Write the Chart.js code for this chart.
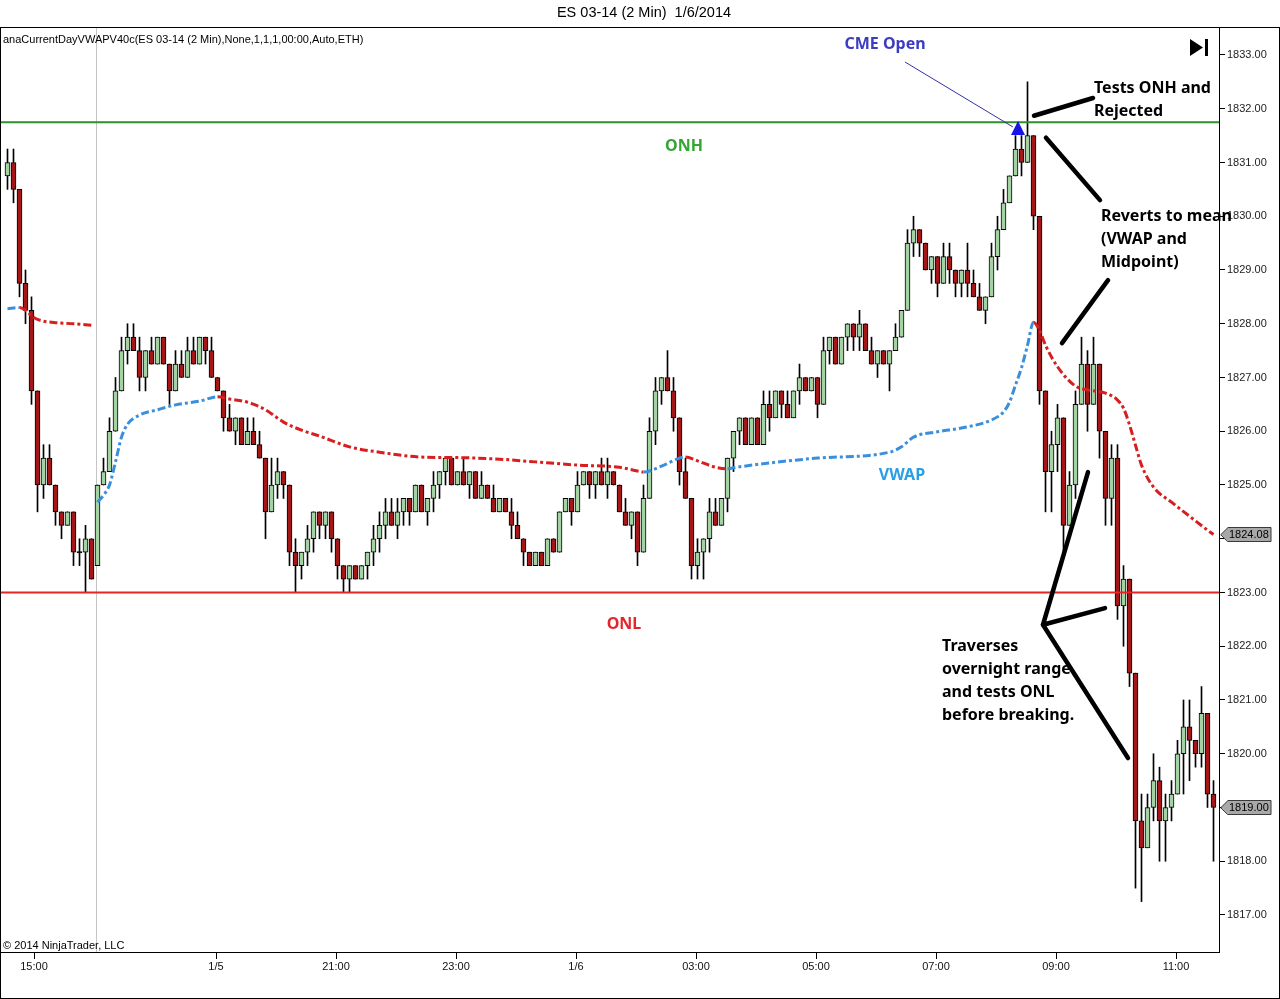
<!DOCTYPE html>
<html>
<head>
<meta charset="utf-8">
<title>ES 03-14 (2 Min) 1/6/2014</title>
<script src="https://cdn.jsdelivr.net/npm/chart.js@4.4.1/dist/chart.umd.min.js"></script>
<style>
  html, body { margin: 0; padding: 0; background: #fff; }
  #wrap { position: relative; width: 1280px; height: 999px; }
</style>
</head>
<body>
<div id="wrap"><canvas id="chart"></canvas></div>
<script>
// 6-minute bars, left to right
const opens = [
  1830.75,1831.0,1830.5,1828.75,1828.25,1826.75,1825.0,1825.5,1825.0,1824.5,
  1824.25,1824.5,1823.75,1823.75,1824.0,1823.5,1825.0,1825.25,1826.0,1826.75,
  1827.5,1827.75,1827.5,1827.0,1827.5,1827.25,1827.75,1827.25,1826.75,1827.25,
  1827.0,1827.5,1827.25,1827.75,1827.5,1827.0,1826.75,1826.25,1826.0,1826.25,
  1825.75,1826.0,1825.75,1825.5,1824.5,1825.0,1825.25,1825.0,1823.75,1823.5,
  1823.75,1824.0,1824.5,1824.25,1824.5,1824.0,1823.5,1823.25,1823.5,1823.25,
  1823.5,1823.75,1824.0,1824.25,1824.5,1824.25,1824.5,1824.75,1824.5,1825.0,
  1824.5,1824.75,1825.0,1825.25,1825.5,1825.0,1825.25,1825.0,1825.25,1824.75,
  1825.0,1824.75,1824.5,1824.75,1824.5,1824.25,1824.0,1823.75,1823.5,1823.75,
  1823.5,1824.0,1823.75,1824.5,1824.75,1824.5,1825.0,1825.25,1825.0,1825.25,
  1825.0,1825.25,1825.0,1824.5,1824.25,1824.5,1823.75,1824.75,1826.0,1826.75,
  1827.0,1826.75,1826.25,1825.25,1824.75,1823.5,1823.75,1824.0,1824.5,1824.25,
  1824.75,1825.5,1826.0,1826.25,1825.75,1826.25,1825.75,1826.5,1826.25,1826.75,
  1826.5,1826.25,1826.75,1827.0,1826.75,1827.0,1826.5,1827.5,1827.75,1827.25,
  1827.75,1828.0,1827.75,1828.0,1827.5,1827.25,1827.5,1827.25,1827.5,1827.75,
  1828.25,1829.5,1829.75,1829.5,1829.0,1829.25,1828.75,1829.25,1829.0,1828.75,
  1829.0,1828.75,1828.5,1828.25,1828.5,1829.25,1829.75,1830.25,1830.75,1831.25,
  1831.0,1831.5,1830.0,1826.75,1825.25,1825.75,1826.25,1824.25,1825.0,1826.5,
  1827.25,1826.5,1827.25,1826.0,1824.75,1825.5,1822.75,1823.25,1821.5,1818.75,
  1818.25,1819.0,1819.5,1818.75,1819.0,1819.25,1820.0,1820.5,1820.25,1820.0,
  1820.75,1819.25
];
const highs = [
  1831.25,1831.25,1830.5,1829.0,1828.5,1826.75,1825.75,1825.75,1825.0,1824.5,
  1824.5,1824.5,1824.0,1824.25,1824.0,1825.0,1825.5,1826.25,1827.0,1827.75,
  1828.0,1828.0,1827.75,1827.5,1827.75,1827.75,1827.75,1827.25,1827.5,1827.5,
  1827.75,1827.75,1827.75,1827.75,1827.75,1827.0,1826.75,1826.5,1826.25,1826.25,
  1826.25,1826.25,1826.0,1825.5,1825.5,1825.5,1825.25,1825.0,1824.0,1823.75,
  1824.25,1824.5,1824.5,1824.5,1824.5,1824.0,1823.5,1823.5,1823.5,1823.5,
  1823.75,1824.25,1824.5,1824.75,1824.75,1824.75,1824.75,1824.75,1825.0,1825.0,
  1824.75,1825.25,1825.25,1825.5,1825.5,1825.25,1825.5,1825.25,1825.25,1825.25,
  1825.0,1825.0,1824.75,1824.75,1824.75,1824.5,1824.0,1823.75,1823.75,1823.75,
  1824.0,1824.0,1824.5,1824.75,1824.75,1825.25,1825.25,1825.25,1825.25,1825.5,
  1825.5,1825.25,1825.0,1824.75,1824.5,1824.5,1825.0,1826.25,1827.0,1827.0,
  1827.5,1827.0,1826.25,1825.5,1824.75,1824.0,1824.0,1824.75,1824.75,1824.75,
  1825.5,1826.0,1826.25,1826.25,1826.25,1826.25,1826.75,1826.75,1826.75,1826.75,
  1826.75,1826.75,1827.25,1827.0,1827.0,1827.0,1827.75,1827.75,1827.75,1827.75,
  1828.0,1828.0,1828.25,1828.0,1827.75,1827.5,1827.5,1827.5,1828.0,1828.25,
  1829.75,1830.0,1829.75,1829.5,1829.25,1829.25,1829.5,1829.5,1829.0,1829.0,
  1829.5,1829.0,1828.75,1828.5,1829.5,1830.0,1830.5,1830.75,1831.5,1831.5,
  1832.5,1831.5,1830.0,1826.75,1826.0,1826.5,1826.25,1825.25,1826.75,1827.75,
  1827.5,1827.75,1827.25,1826.0,1825.75,1825.75,1823.5,1823.25,1821.5,1819.25,
  1819.25,1820.0,1819.75,1819.25,1819.5,1820.25,1821.0,1821.0,1820.25,1821.25,
  1820.75,1819.5
];
const lows = [
  1830.5,1830.25,1828.5,1828.0,1826.5,1824.5,1824.75,1825.0,1824.25,1824.0,
  1824.25,1823.5,1823.5,1823.0,1823.25,1823.5,1825.0,1825.25,1826.0,1826.75,
  1827.25,1827.5,1826.75,1826.75,1827.25,1827.25,1827.25,1826.5,1826.75,1827.0,
  1827.0,1827.25,1827.25,1827.25,1827.0,1826.75,1826.0,1826.0,1825.75,1825.75,
  1825.75,1825.75,1825.5,1824.0,1824.5,1824.75,1824.75,1823.5,1823.0,1823.25,
  1823.5,1823.75,1824.0,1824.0,1823.75,1823.25,1823.0,1823.0,1823.25,1823.25,
  1823.25,1823.5,1823.75,1824.0,1824.25,1824.0,1824.25,1824.25,1824.5,1824.5,
  1824.25,1824.5,1824.75,1825.0,1825.0,1825.0,1825.0,1824.75,1824.75,1824.75,
  1824.75,1824.5,1824.5,1824.5,1824.0,1824.0,1823.5,1823.5,1823.5,1823.5,
  1823.5,1823.75,1823.75,1824.5,1824.25,1824.5,1825.0,1824.75,1824.75,1825.0,
  1824.75,1825.0,1824.5,1824.25,1824.0,1823.5,1823.75,1824.75,1825.75,1826.5,
  1826.75,1826.0,1825.0,1824.75,1823.25,1823.25,1823.25,1823.75,1824.25,1824.25,
  1824.5,1825.25,1825.75,1825.75,1825.75,1825.75,1825.75,1826.0,1826.25,1826.25,
  1826.25,1826.25,1826.5,1826.75,1826.75,1826.25,1826.5,1827.25,1827.25,1827.25,
  1827.5,1827.5,1827.5,1827.5,1827.25,1827.0,1827.25,1826.75,1827.5,1827.75,
  1828.25,1829.25,1829.25,1829.0,1828.75,1828.5,1828.75,1828.75,1828.5,1828.5,
  1828.5,1828.5,1828.25,1828.0,1828.5,1829.0,1829.75,1830.25,1830.75,1830.75,
  1831.0,1829.75,1826.5,1824.5,1824.5,1825.25,1823.75,1824.25,1824.75,1826.5,
  1826.0,1826.5,1825.5,1824.25,1824.25,1822.5,1822.0,1821.25,1817.5,1817.25,
  1818.25,1818.75,1818.0,1818.0,1818.75,1819.25,1819.25,1819.5,1819.75,1819.75,
  1819.0,1818.0
];
const closes = [
  1831.0,1830.5,1828.75,1828.25,1826.75,1825.0,1825.5,1825.0,1824.5,1824.25,
  1824.5,1823.75,1823.75,1824.0,1823.25,1825.0,1825.25,1826.0,1826.75,1827.5,
  1827.75,1827.5,1827.0,1827.5,1827.25,1827.75,1827.25,1826.75,1827.25,1827.0,
  1827.5,1827.25,1827.75,1827.5,1827.0,1826.75,1826.25,1826.0,1826.25,1825.75,
  1826.0,1825.75,1825.5,1824.5,1825.0,1825.25,1825.0,1823.75,1823.5,1823.75,
  1824.0,1824.5,1824.25,1824.5,1824.0,1823.5,1823.25,1823.5,1823.25,1823.5,
  1823.75,1824.0,1824.25,1824.5,1824.25,1824.5,1824.75,1824.5,1825.0,1824.5,
  1824.75,1825.0,1825.25,1825.5,1825.0,1825.25,1825.0,1825.25,1824.75,1825.0,
  1824.75,1824.5,1824.75,1824.5,1824.25,1824.0,1823.75,1823.5,1823.75,1823.5,
  1824.0,1823.75,1824.5,1824.75,1824.5,1825.0,1825.25,1825.0,1825.25,1825.0,
  1825.25,1825.0,1824.5,1824.25,1824.5,1823.75,1824.75,1826.0,1826.75,1827.0,
  1826.75,1826.25,1825.25,1824.75,1823.5,1823.75,1824.0,1824.5,1824.25,1824.75,
  1825.5,1826.0,1826.25,1825.75,1826.25,1825.75,1826.5,1826.25,1826.75,1826.5,
  1826.25,1826.75,1827.0,1826.75,1827.0,1826.5,1827.5,1827.75,1827.25,1827.75,
  1828.0,1827.75,1828.0,1827.5,1827.25,1827.5,1827.25,1827.5,1827.75,1828.25,
  1829.5,1829.75,1829.5,1829.0,1829.25,1828.75,1829.25,1829.0,1828.75,1829.0,
  1828.75,1828.5,1828.25,1828.5,1829.25,1829.75,1830.25,1830.75,1831.25,1831.0,
  1831.5,1830.0,1826.75,1825.25,1825.75,1826.25,1824.25,1825.0,1826.5,1827.25,
  1826.5,1827.25,1826.0,1824.75,1825.5,1822.75,1823.25,1821.5,1818.75,1818.25,
  1819.0,1819.5,1818.75,1819.0,1819.25,1820.0,1820.5,1820.25,1820.0,1820.75,
  1819.25,1819.0
];

// VWAP of the previous session (ends at the session break) and of the current day
const vwapPrevIdx = [0, 2, 3, 4, 5, 8, 11, 14];
const vwapPrevVal = [1828.28, 1828.30, 1828.25, 1828.15, 1828.08, 1828.02, 1828.00, 1827.97];
const vwapIdx = [
  15, 16, 17, 18, 19, 20, 22, 25, 28, 32, 35,
  37, 40, 43, 46, 49, 52, 57, 62, 69, 75, 82, 88, 95, 102, 105,
  106, 109, 112, 113,
  115, 118, 120,
  121, 127, 135, 147, 149, 151, 155, 159, 164, 166, 167, 168, 169, 170, 171,
  172, 173, 175, 178, 180, 183, 185, 186, 187, 188, 189, 191, 194, 197, 200, 201
];
const vwapVal = [
  1824.68, 1824.81, 1825.00, 1825.43, 1825.89, 1826.13, 1826.30, 1826.40, 1826.49, 1826.56, 1826.64,
  1826.60, 1826.54, 1826.40, 1826.17, 1826.02, 1825.91, 1825.71, 1825.61, 1825.52, 1825.51, 1825.48, 1825.43, 1825.37, 1825.33, 1825.26,
  1825.24, 1825.35, 1825.50, 1825.52,
  1825.45, 1825.33, 1825.30,
  1825.32, 1825.41, 1825.50, 1825.61, 1825.71, 1825.89, 1825.99, 1826.06, 1826.21, 1826.36, 1826.54, 1826.86, 1827.18, 1827.60, 1828.03,
  1827.88, 1827.60, 1827.20, 1826.84, 1826.77, 1826.71, 1826.58, 1826.43, 1826.12, 1825.74, 1825.37, 1824.96, 1824.68, 1824.42, 1824.16, 1824.08
];

const onh = 1831.75;
const onl = 1823.00;
const sessionBreak = 14.75;

const timeTickIdx = [4.42, 34.75, 54.75, 74.75, 94.75, 114.75, 134.75, 154.75, 174.75, 194.75];
const timeTickLabels = ['15:00', '1/5', '21:00', '23:00', '1/6', '03:00', '05:00', '07:00', '09:00', '11:00'];
const priceTicks = [1817, 1818, 1819, 1820, 1821, 1822, 1823, 1824, 1825, 1826, 1827, 1828, 1829, 1830, 1831, 1832, 1833];

// annotations drawn on top, anchored in (bar, price) units
const pointerLines = [
  [[171.08, 1831.87], [180.92, 1832.20]],
  [[173.08, 1831.46], [182.08, 1830.30]],
  [[175.75, 1827.64], [183.42, 1828.81]],
  [[180.08, 1825.24], [172.58, 1822.40], [182.92, 1822.71]],
  [[172.58, 1822.40], [186.75, 1819.92]]
];
const notes = [
  { lines: ['Tests ONH and', 'Rejected'], at: [181.08, 1832.37] },
  { lines: ['Reverts to mean', '(VWAP and', 'Midpoint)'], at: [182.25, 1829.99] },
  { lines: ['Traverses', 'overnight range', 'and tests ONL', 'before breaking.'], at: [155.75, 1822.00] }
];
const labels = [
  { text: 'ONH', at: [112.75, 1831.29], color: '#35a535' },
  { text: 'ONL', at: [102.75, 1822.41], color: '#e3262b' },
  { text: 'VWAP', at: [149.08, 1825.17], color: '#2a9fe3' },
  { text: 'CME Open', at: [146.25, 1833.19], color: '#3b3bc4' }
];
const cmeLine = [[149.58, 1832.87], [167.58, 1831.66]];
const cmeMark = [168.42, 1831.77];

const UP = '#a3d2a3';
const DOWN = '#a51616';
const VW_UP = '#3a8fdc';
const VW_DN = '#d81e1e';
const xMin = -1.25, xMax = 202.083;
const yMin = 1816.293, yMax = 1833.502;
const FONT = 'Liberation Sans, Arial, sans-serif';

const wicks = closes.map((c, i) => ({ x: i, y: [Math.min(lows[i], opens[i], c), Math.max(highs[i], opens[i], c)] }));
const bodies = closes.map((c, i) => {
  let lo = Math.min(opens[i], c), hi = Math.max(opens[i], c);
  if (lo === hi) { lo -= 0.012; hi += 0.012; }
  return { x: i, y: [lo, hi] };
});
const bodyColors = closes.map((c, i) => c > opens[i] ? UP : (c < opens[i] ? DOWN : '#000'));

const vwapColor = ctx => ctx.p1.parsed.y >= ctx.p0.parsed.y ? VW_UP : VW_DN;

const overlay = {
  id: 'overlay',
  beforeDraw(chart) {
    const c = chart.ctx;
    c.save();
    c.fillStyle = '#fff';
    c.fillRect(0, 0, chart.width, chart.height);
    c.restore();
  },
  beforeDatasetsDraw(chart) {
    const c = chart.ctx, a = chart.chartArea;
    const x = Math.round(chart.scales.x.getPixelForValue(sessionBreak)) + 0.5;
    c.save();
    c.strokeStyle = '#c4c4c4';
    c.lineWidth = 1;
    c.beginPath();
    c.moveTo(x, a.top);
    c.lineTo(x, a.bottom);
    c.stroke();
    c.restore();
  },
  afterDraw(chart) {
    const c = chart.ctx, a = chart.chartArea;
    const X = v => chart.scales.x.getPixelForValue(v);
    const Y = v => chart.scales.y.getPixelForValue(v);
    c.save();

    // frames
    c.strokeStyle = '#000';
    c.lineWidth = 1;
    c.strokeRect(a.left + 0.5, a.top - 0.5, a.right - a.left - 1, a.bottom - a.top);
    c.strokeRect(0.5, a.top - 0.5, chart.width - 1, chart.height - a.top);

    // title + indicator caption + copyright
    c.fillStyle = '#000';
    c.textBaseline = 'middle';
    c.textAlign = 'center';
    c.font = '14.5px ' + FONT;
    c.fillText('ES 03-14 (2 Min)  1/6/2014', 644, 13);
    c.textAlign = 'left';
    c.font = '11px ' + FONT;
    c.fillText('anaCurrentDayVWAPV40c(ES 03-14 (2 Min),None,1,1,1,00:00,Auto,ETH)', 3, a.top + 12);
    c.fillText('\u00a9 2014 NinjaTrader, LLC', 3, a.bottom - 7);

    // end-of-chart icon
    const ix = a.right - 30, iy = a.top + 11;
    c.beginPath();
    c.moveTo(ix, iy);
    c.lineTo(ix, iy + 17);
    c.lineTo(ix + 13, iy + 8.5);
    c.closePath();
    c.fill();
    c.fillRect(ix + 15, iy, 3, 17);

    // CME open marker
    c.strokeStyle = '#3232a8';
    c.lineWidth = 1;
    c.beginPath();
    c.moveTo(X(cmeLine[0][0]), Y(cmeLine[0][1]));
    c.lineTo(X(cmeLine[1][0]), Y(cmeLine[1][1]));
    c.stroke();
    const tx = X(cmeMark[0]), ty = Y(cmeMark[1]);
    c.fillStyle = '#1515e6';
    c.beginPath();
    c.moveTo(tx, ty);
    c.lineTo(tx - 7, ty + 14);
    c.lineTo(tx + 7, ty + 14);
    c.closePath();
    c.fill();

    // hand-drawn pointers
    c.strokeStyle = '#000';
    c.lineWidth = 4.5;
    c.lineCap = 'round';
    c.lineJoin = 'round';
    pointerLines.forEach(pts => {
      c.beginPath();
      pts.forEach((p, i) => i ? c.lineTo(X(p[0]), Y(p[1])) : c.moveTo(X(p[0]), Y(p[1])));
      c.stroke();
    });

    // text notes
    c.font = 'bold 16px "Noto Sans", "Open Sans", sans-serif';
    c.textAlign = 'left';
    c.fillStyle = '#000';
    notes.forEach(n => {
      n.lines.forEach((t, i) => c.fillText(t, X(n.at[0]), Y(n.at[1]) + i * 23));
    });
    c.textAlign = 'center';
    labels.forEach(l => {
      c.fillStyle = l.color;
      c.fillText(l.text, X(l.at[0]), Y(l.at[1]));
    });

    // last value markers on the price axis
    const marker = v => {
      const y = Math.round(Y(v)) + 0.5, x0 = a.right + 1;
      c.beginPath();
      c.moveTo(x0, y);
      c.lineTo(x0 + 7, y - 7);
      c.lineTo(x0 + 50, y - 7);
      c.lineTo(x0 + 50, y + 7);
      c.lineTo(x0 + 7, y + 7);
      c.closePath();
      c.fillStyle = '#a8a8a8';
      c.fill();
      c.strokeStyle = '#3a3a3a';
      c.lineWidth = 1;
      c.stroke();
      c.fillStyle = '#000';
      c.font = '11px ' + FONT;
      c.textAlign = 'left';
      c.fillText(v.toFixed(2), x0 + 8, y + 0.5);
    };
    marker(vwapVal[vwapVal.length - 1]);
    marker(closes[closes.length - 1]);

    c.restore();
  }
};

new Chart(document.getElementById('chart'), {
  type: 'bar',
  data: {
    datasets: [
      {
        type: 'line', label: 'VWAP prev', order: 1,
        data: vwapPrevIdx.map((x, i) => ({ x: x, y: vwapPrevVal[i] })),
        borderWidth: 3, borderDash: [8, 3, 3, 3], pointRadius: 0,
        cubicInterpolationMode: 'monotone', borderColor: VW_DN,
        segment: { borderColor: vwapColor }
      },
      {
        type: 'line', label: 'VWAP', order: 1,
        data: vwapIdx.map((x, i) => ({ x: x, y: vwapVal[i] })),
        borderWidth: 3, borderDash: [8, 3, 3, 3], pointRadius: 0,
        cubicInterpolationMode: 'monotone', borderColor: VW_DN,
        segment: { borderColor: vwapColor }
      },
      {
        type: 'line', label: 'ONH', order: 2,
        data: [{ x: xMin, y: onh }, { x: xMax, y: onh }],
        borderColor: '#2f8f2f', borderWidth: 2, pointRadius: 0
      },
      {
        type: 'line', label: 'ONL', order: 2,
        data: [{ x: xMin, y: onl }, { x: xMax, y: onl }],
        borderColor: '#e52424', borderWidth: 2, pointRadius: 0
      },
      {
        label: 'bodies', order: 3, data: bodies,
        backgroundColor: bodyColors, borderColor: '#000', borderWidth: 1,
        borderSkipped: false, barThickness: 5, grouped: false
      },
      {
        label: 'wicks', order: 4, data: wicks,
        backgroundColor: '#000', borderWidth: 0, barThickness: 1, grouped: false
      }
    ]
  },
  options: {
    responsive: true,
    maintainAspectRatio: false,
    devicePixelRatio: 1,
    animation: false,
    events: [],
    layout: { padding: { top: 28, left: 0, right: 0, bottom: 0 } },
    plugins: { legend: { display: false }, tooltip: { enabled: false }, title: { display: false } },
    scales: {
      x: {
        type: 'linear', min: xMin, max: xMax, offset: false,
        afterBuildTicks: s => { s.ticks = timeTickIdx.map(v => ({ value: v })); },
        afterFit: s => { s.height = 46; },
        ticks: {
          autoSkip: false, maxRotation: 0, padding: 1, color: '#111',
          font: { family: FONT, size: 11 },
          callback: (v, i) => timeTickLabels[i]
        },
        grid: { offset: false, drawOnChartArea: false, drawTicks: true, tickLength: 6, color: '#000' },
        border: { display: false }
      },
      y: {
        type: 'linear', position: 'right', min: yMin, max: yMax,
        afterBuildTicks: s => { s.ticks = priceTicks.map(v => ({ value: v })); },
        afterFit: s => { s.width = 60; },
        ticks: {
          padding: 2, color: '#222',
          font: { family: FONT, size: 11 },
          callback: v => v.toFixed(2)
        },
        grid: { offset: false, drawOnChartArea: false, drawTicks: true, tickLength: 5, color: '#000' },
        border: { display: false }
      }
    }
  },
  plugins: [overlay]
});
</script>
</body>
</html>
